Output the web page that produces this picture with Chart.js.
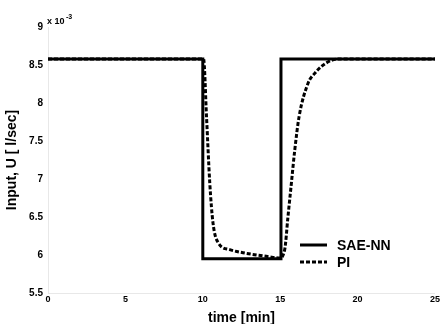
<!DOCTYPE html>
<html>
<head>
<meta charset="utf-8">
<script src="https://cdn.jsdelivr.net/npm/chart.js@4"></script>
<style>
  html, body { margin: 0; padding: 0; background: #fff; }
  #wrap { width: 441px; height: 324px; }
</style>
</head>
<body>
<div id="wrap"><canvas id="c" width="441" height="324"></canvas></div>
<script>
// values in units of 1e-3 l/sec
const saeTime = [0, 10, 10, 15.05, 15.05, 25];
const saeU    = [8.58, 8.58, 5.95, 5.95, 8.58, 8.58];

const piTime = [0, 10.05, 10.24, 10.45, 10.66, 11.0, 11.74, 12.6, 13.46, 14.2, 14.95, 15.29, 15.5, 15.72, 15.94, 16.22, 16.8, 17.23, 17.66, 18.3, 19.0, 25];
const piU    = [8.58, 8.58, 7.82, 6.95, 6.42, 6.16, 6.07, 6.03, 6.0, 5.98, 5.96, 6.07, 6.5, 6.94, 7.38, 7.82, 8.26, 8.39, 8.48, 8.56, 8.58, 8.58];

const xTicks = [0, 5, 10, 15, 20, 25];
const yTicks = [5.5, 6, 6.5, 7, 7.5, 8, 8.5, 9];

const toPts = (xs, ys) => xs.map((x, i) => ({x: x, y: ys[i]}));
const font = "'Liberation Sans', Arial, sans-serif";

// exponent label and legend drawn on the canvas
const extras = {
  id: 'extras',
  afterDraw(chart) {
    const ctx = chart.ctx;
    const a = chart.chartArea;
    ctx.save();
    ctx.fillStyle = '#000';
    ctx.textBaseline = 'alphabetic';
    ctx.font = 'bold 9px ' + font;
    ctx.fillText('x 10', a.left - 1, a.top - 3);
    ctx.font = 'bold 7px ' + font;
    ctx.fillText('-3', a.left + 18, a.top - 8);

    // legend
    const lx = 300, ly = 245;
    chart.data.datasets.forEach((ds, i) => {
      const y = ly + i * 17;
      ctx.strokeStyle = ds.borderColor;
      ctx.lineWidth = ds.borderWidth;
      ctx.setLineDash(ds.borderDash || []);
      ctx.beginPath();
      ctx.moveTo(lx, y);
      ctx.lineTo(lx + 27, y);
      ctx.stroke();
      ctx.setLineDash([]);
      ctx.font = 'bold 14px ' + font;
      ctx.textBaseline = 'middle';
      ctx.fillText(ds.label, lx + 37, y + 1);
    });
    ctx.restore();
  }
};

new Chart(document.getElementById('c'), {
  type: 'scatter',
  data: {
    datasets: [
      {
        label: 'SAE-NN',
        data: toPts(saeTime, saeU),
        showLine: true,
        borderColor: '#000',
        borderWidth: 3,
        pointRadius: 0,
        tension: 0
      },
      {
        label: 'PI',
        data: toPts(piTime, piU),
        showLine: true,
        borderColor: '#000',
        borderWidth: 3,
        borderDash: [4, 2],
        pointRadius: 0,
        cubicInterpolationMode: 'monotone'
      }
    ]
  },
  options: {
    responsive: false,
    animation: false,
    layout: { padding: { top: 27, right: 6, left: 0, bottom: 0 } },
    plugins: { legend: { display: false }, tooltip: { enabled: false } },
    scales: {
      x: {
        type: 'linear',
        min: 0, max: 25,
        afterBuildTicks: s => { s.ticks = xTicks.map(v => ({value: v})); },
        grid: { display: false, drawTicks: false },
        border: { color: '#e8e8e8', width: 1 },
        ticks: { color: '#000', font: { family: font, weight: 'bold', size: 9 }, padding: 1,
                 callback: v => String(v) },
        title: { display: true, text: 'time [min]', color: '#000',
                 font: { family: font, weight: 'bold', size: 14 }, padding: { top: 0, bottom: -3 } },
        afterFit: s => { s.height = 31; }
      },
      y: {
        min: 5.5, max: 9,
        afterBuildTicks: s => { s.ticks = yTicks.map(v => ({value: v})); },
        grid: { display: false, drawTicks: false },
        border: { color: '#e8e8e8', width: 1 },
        ticks: { color: '#000', font: { family: font, weight: 'bold', size: 10 }, padding: 5,
                 callback: v => String(v) },
        title: { display: true, text: 'Input, U [ l/sec]', color: '#000',
                 font: { family: font, weight: 'bold', size: 14 }, padding: { top: 4, bottom: 0 } },
        afterFit: s => { s.width = 48; }
      }
    }
  },
  plugins: [extras]
});
</script>
</body>
</html>
